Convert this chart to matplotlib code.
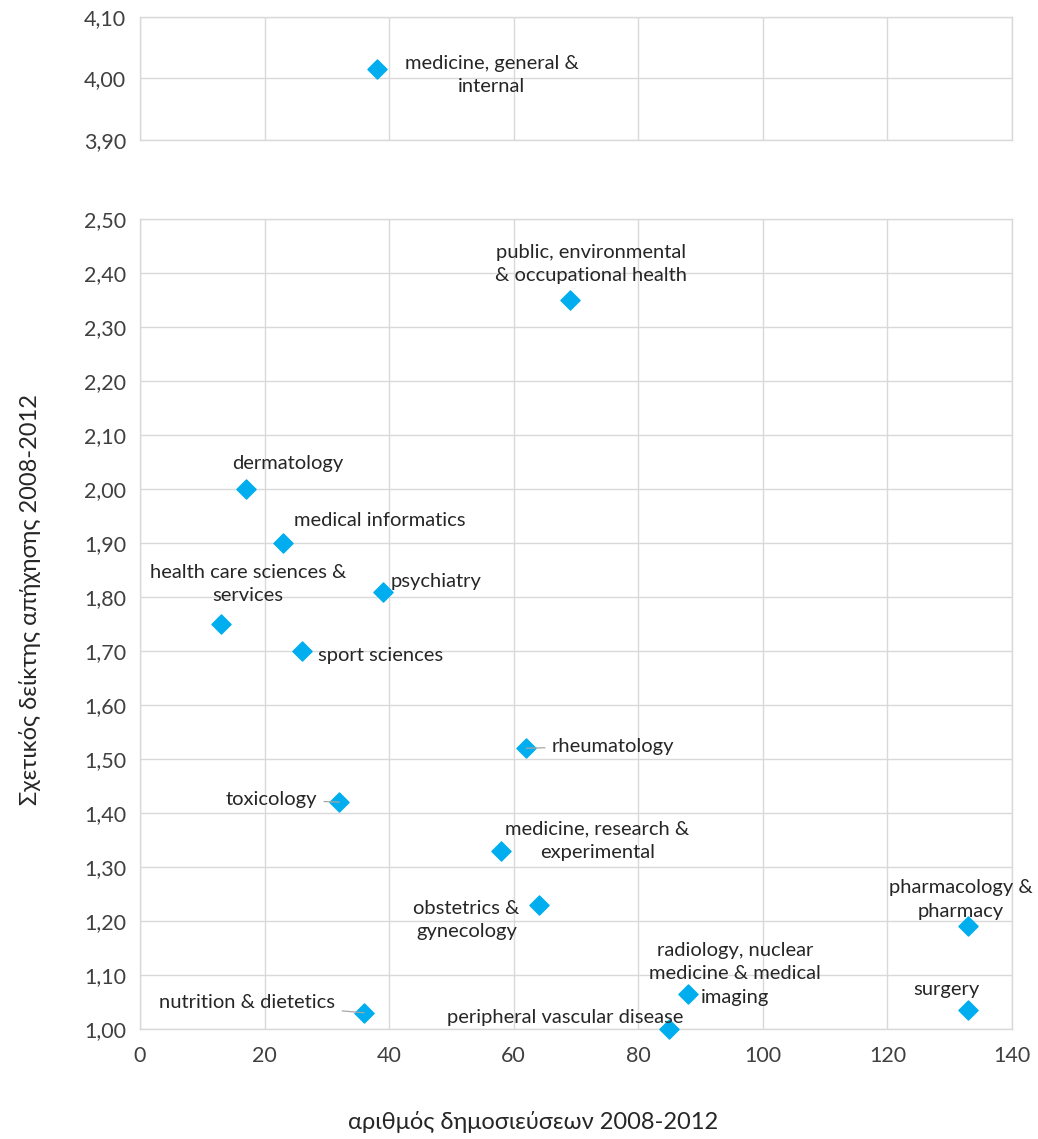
import matplotlib
matplotlib.use("Agg")
import matplotlib.pyplot as plt
from matplotlib.ticker import FuncFormatter

plt.rcParams['font.family'] = ['Lato', 'Noto Sans', 'DejaVu Sans']

# --- data ---
fields = [
    "medicine, general &\ninternal",
    "public, environmental\n& occupational health",
    "dermatology",
    "medical informatics",
    "psychiatry",
    "health care sciences &\nservices",
    "sport sciences",
    "rheumatology",
    "toxicology",
    "medicine, research &\nexperimental",
    "obstetrics &\ngynecology",
    "pharmacology &\npharmacy",
    "radiology, nuclear\nmedicine & medical\nimaging",
    "surgery",
    "nutrition & dietetics",
    "peripheral vascular disease",
]
publications = [38, 69, 17, 23, 39, 13, 26, 62, 32, 58, 64, 133, 88, 133, 36, 85]
citation_index = [4.015, 2.35, 2.00, 1.90, 1.81, 1.75, 1.70, 1.52, 1.42, 1.33,
                  1.23, 1.19, 1.065, 1.035, 1.03, 1.00]

x_ticks = [0, 20, 40, 60, 80, 100, 120, 140]
top_ticks = [3.90, 4.00, 4.10]
bottom_ticks = [1.00, 1.10, 1.20, 1.30, 1.40, 1.50, 1.60, 1.70, 1.80, 1.90,
                2.00, 2.10, 2.20, 2.30, 2.40, 2.50]

# label offsets (pixels, from marker to label centre) and leader-line flags
label_offsets = [(115, -6), (21, 36), (42, 25), (96, 22), (53, 10), (27, 40),
                 (79, -5), (87, 2), (-68, 3), (96, 10), (-72, -15), (-8, 27),
                 (47, 20), (-22, 21), (-117, 10), (-104, 12)]
leaders = [False, False, False, False, False, False, False, True, True, False,
           False, False, False, False, True, False]

blue = '#00AEEF'
grid_c = '#D9D9D9'
text_c = '#262626'

fig = plt.figure(figsize=(10.38, 11.39), dpi=100)
W, H = 1038, 1139
left, right = 140, 1012
ax_top = fig.add_axes([left / W, 1 - 140 / H, (right - left) / W, 123.3 / H])
ax_bot = fig.add_axes([left / W, 1 - 1029 / H, (right - left) / W, 810 / H])

comma_fmt = FuncFormatter(lambda v, p: f"{v:.2f}".replace('.', ','))

for ax, lo, hi, yt in [(ax_top, 3.90, 4.10, top_ticks), (ax_bot, 1.00, 2.50, bottom_ticks)]:
    ax.set_xlim(0, 140)
    ax.set_ylim(lo, hi)
    ax.set_xticks(x_ticks)
    ax.set_yticks(yt)
    ax.yaxis.set_major_formatter(comma_fmt)
    ax.grid(True, color=grid_c, lw=1)
    ax.set_axisbelow(True)
    for s in ax.spines.values():
        s.set_color(grid_c)
        s.set_linewidth(1)
    ax.tick_params(length=0, labelsize=15.5, colors='#404040')
    ax.tick_params(axis='y', pad=10)
    ax.tick_params(axis='x', pad=12)

ax_top.tick_params(axis='x', labelbottom=False)

for name, x, y, off, lead in zip(fields, publications, citation_index, label_offsets, leaders):
    ax = ax_top if y > 3 else ax_bot
    ax.scatter([x], [y], marker='D', s=95, color=blue, zorder=3, clip_on=False)
    arrow = dict(arrowstyle='-', color='#A6A6A6', lw=0.9, shrinkA=3, shrinkB=0) if lead else None
    ax.annotate(name, xy=(x, y), xytext=off, textcoords='offset pixels',
                ha='center', va='center', multialignment='center',
                fontsize=14.5, color=text_c, linespacing=1.45,
                arrowprops=arrow, annotation_clip=False, zorder=4)

fig.text(533 / W, 1 - 1122 / H, "αριθμός δημοσιεύσεων 2008-2012",
         ha='center', va='center', fontsize=17, color=text_c)
fig.text(30 / W, 1 - 600 / H, "Σχετικός δείκτης απήχησης 2008-2012",
         ha='center', va='center', rotation=90, fontsize=17, color=text_c)

fig.savefig("out.png", dpi=100)
